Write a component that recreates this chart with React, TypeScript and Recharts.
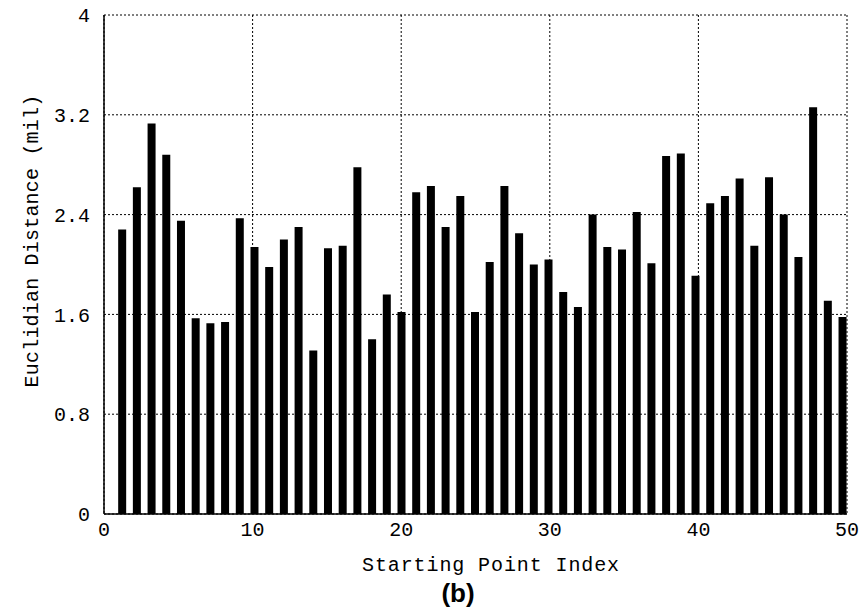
import React from 'react';
import { BarChart, Bar, XAxis, YAxis, CartesianGrid } from 'recharts';

const indices = Array.from({ length: 50 }, (_, i) => i + 1);

const distances = [
  2.28, 2.62, 3.13, 2.88, 2.35, 1.57, 1.53, 1.54, 2.37, 2.14,
  1.98, 2.2, 2.3, 1.31, 2.13, 2.15, 2.78, 1.4, 1.76, 1.62,
  2.58, 2.63, 2.3, 2.55, 1.62, 2.02, 2.63, 2.25, 2.0, 2.04,
  1.78, 1.66, 2.4, 2.14, 2.12, 2.42, 2.01, 2.87, 2.89, 1.91,
  2.49, 2.55, 2.69, 2.15, 2.7, 2.4, 2.06, 3.26, 1.71, 1.58,
];

const xTicks = [0, 10, 20, 30, 40, 50];
const yTicks = [0, 0.8, 1.6, 2.4, 3.2, 4];

const data = indices.map((idx, i) => ({ idx, dist: distances[i] }));

const MONO = '"Liberation Mono", "DejaVu Sans Mono", monospace';

const App: React.FC = () => {
  return (
    <div style={{ position: 'absolute', left: 0, top: 0, width: 865, height: 614, background: '#fff' }}>
      <BarChart
        width={865}
        height={614}
        data={data}
        margin={{ top: 15, right: 18, bottom: 70, left: 44 }}
      >
        <CartesianGrid xAxisId="grid" stroke="#000" strokeDasharray="2 2" strokeWidth={1} />
        {/* the bars in the original sit a little inside the frame, so they get their own hidden scale */}
        <XAxis
          xAxisId="bars"
          dataKey="idx"
          type="number"
          domain={[-0.26, 50.28]}
          allowDataOverflow
          hide
          height={0}
        />
        <XAxis
          xAxisId="grid"
          dataKey="idx"
          type="number"
          domain={[0, 50]}
          allowDataOverflow
          ticks={xTicks}
          height={30}
          tickSize={0}
          tickMargin={8}
          axisLine={{ stroke: '#000', strokeWidth: 1.5 }}
          tickLine={false}
          tick={{ fill: '#000', fontFamily: MONO, fontSize: 20 }}
        />
        <YAxis
          type="number"
          domain={[0, 4]}
          ticks={yTicks}
          width={60}
          tickSize={0}
          tickMargin={14}
          axisLine={{ stroke: '#000', strokeWidth: 1.5 }}
          tickLine={false}
          tick={{ fill: '#000', fontFamily: MONO, fontSize: 20 }}
        />
        <Bar xAxisId="bars" dataKey="dist" fill="#000" barSize={8} isAnimationActive={false} />
      </BarChart>
      <div
        style={{
          position: 'absolute',
          left: 33,
          top: 241,
          transform: 'translate(-50%, -50%) rotate(-90deg)',
          whiteSpace: 'nowrap',
          fontFamily: MONO,
          fontSize: 20,
          letterSpacing: 0.2,
          color: '#000',
          lineHeight: 1,
        }}
      >
        Euclidian Distance (mil)
      </div>
      <div
        style={{
          position: 'absolute',
          left: 491,
          top: 566,
          transform: 'translate(-50%, -50%)',
          whiteSpace: 'nowrap',
          fontFamily: MONO,
          fontSize: 20,
          letterSpacing: 0.9,
          color: '#000',
          lineHeight: 1,
        }}
      >
        Starting Point Index
      </div>
      <div
        style={{
          position: 'absolute',
          left: 458,
          top: 593,
          transform: 'translate(-50%, -50%)',
          whiteSpace: 'nowrap',
          fontFamily: '"Liberation Sans", Arial, sans-serif',
          fontWeight: 'bold',
          fontSize: 26,
          color: '#000',
          lineHeight: 1,
        }}
      >
        (b)
      </div>
    </div>
  );
};

export default App;
